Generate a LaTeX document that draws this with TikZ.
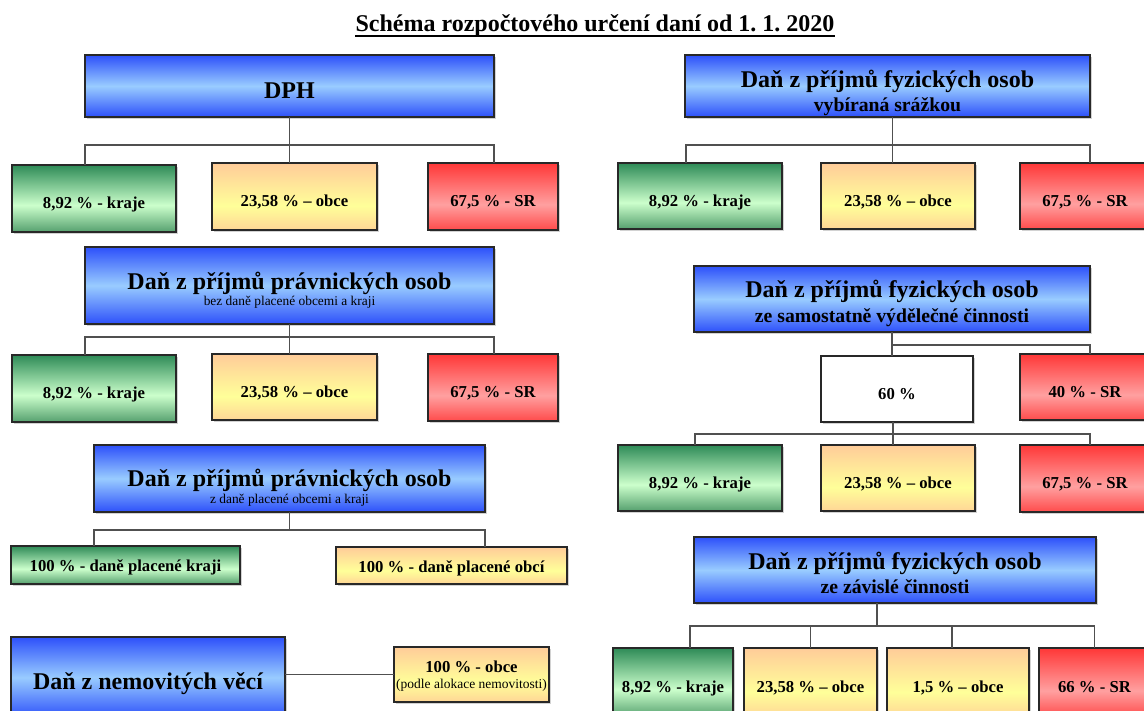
\documentclass[tikz,border=0pt]{standalone}
\usepackage{fontspec}
\setmainfont{Liberation Serif}
\usetikzlibrary{shadows}
\definecolor{bdark}{RGB}{45,80,250}
\definecolor{blight}{RGB}{153,204,255}
\definecolor{gdark}{RGB}{46,139,87}
\definecolor{glight}{RGB}{204,255,204}
\definecolor{gbot}{RGB}{85,160,110}
\definecolor{ydark}{RGB}{255,204,153}
\definecolor{ylight}{RGB}{255,255,153}
\definecolor{ybot}{RGB}{255,214,150}
\definecolor{rdark}{RGB}{255,55,55}
\definecolor{rlight}{RGB}{255,160,160}
\definecolor{rbot}{RGB}{255,75,75}
\definecolor{edge}{RGB}{40,40,40}
\definecolor{connc}{RGB}{80,80,80}
\pgfdeclareverticalshading{blueshade}{100bp}{color(0bp)=(bdark); color(25bp)=(bdark); color(50bp)=(blight); color(75bp)=(bdark); color(100bp)=(bdark)}
\pgfdeclareverticalshading{greenshade}{100bp}{color(0bp)=(gbot); color(25bp)=(gbot); color(45bp)=(glight); color(75bp)=(gdark); color(100bp)=(gdark)}
\pgfdeclareverticalshading{yellowshade}{100bp}{color(0bp)=(ybot); color(25bp)=(ybot); color(43bp)=(ylight); color(75bp)=(ydark); color(100bp)=(ydark)}
\pgfdeclareverticalshading{redshade}{100bp}{color(0bp)=(rbot); color(25bp)=(rbot); color(44bp)=(rlight); color(75bp)=(rdark); color(100bp)=(rdark)}
\newcommand\boxat[7]{\node[#1, minimum width={(#5)-(#3)}, minimum height={(#6)-(#4)}] (#2) at ({((#3)+(#5))/2},{((#4)+(#6))/2}) {#7};}
\tikzset{
  boxbase/.style={draw=edge, line width=1.1pt, inner sep=0pt, outer sep=0pt, align=center,
    drop shadow={shadow xshift=1.8pt, shadow yshift=-1.8pt, opacity=0.35}},
  bluebox/.style={boxbase, shading=blueshade, font=\fontsize{24}{24}\selectfont\bfseries},
  smallbox/.style={boxbase, font=\fontsize{16.7}{20}\selectfont\bfseries, text height=24pt, text depth=4pt},
  greenbox/.style={smallbox, shading=greenshade},
  yellowbox/.style={smallbox, shading=yellowshade},
  redbox/.style={smallbox, shading=redshade},
  whitebox/.style={smallbox, fill=white},
  conn/.style={draw=connc, line width=1.3pt},
}
\newcommand\subb{\fontsize{19.7}{24}\selectfont}
\newcommand\subs{\fontsize{13.4}{16}\selectfont\mdseries}
\begin{document}
\begin{tikzpicture}[x=1pt,y=-1pt]
\useasboundingbox (0,0) rectangle (1144,710);
\clip (0,0) rectangle (1144,710);
\fill[white] (0,0) rectangle (1144,710);

% title
\node[font=\fontsize{24}{24}\selectfont\bfseries, inner sep=0pt, anchor=base] (title) at (595,31) {Schéma rozpočtového určení daní od 1.~1.~2020};
\draw[line width=1.4pt] ([yshift=-5pt]title.base west) -- ([yshift=-5pt]title.base east);

% ---------- left column ----------
\boxat{bluebox, text height=28pt, text depth=4pt}{dph}{85}{55}{494}{117}{DPH}
\boxat{greenbox}{g1}{12}{165}{176}{232}{8,92 \% - kraje}
\boxat{yellowbox}{y1}{212}{163}{377}{230}{23,58 \% – obce}
\boxat{redbox}{r1}{428}{163}{558}{230}{67,5 \% - SR}

\boxat{bluebox, text height=44pt, text depth=4pt}{ppo1}{85}{247}{494}{324}{Daň z příjmů právnických osob\\[-8pt]{\subs bez daně placené obcemi a kraji}}
\boxat{greenbox}{g2}{12}{355}{176}{422}{8,92 \% - kraje}
\boxat{yellowbox}{y2}{212}{354}{377}{420}{23,58 \% – obce}
\boxat{redbox}{r2}{428}{354}{558}{421}{67,5 \% - SR}

\boxat{bluebox, text height=53pt, text depth=4pt}{ppo2}{94}{445}{485}{512}{Daň z příjmů právnických osob\\[-7pt]{\subs z daně placené obcemi a kraji}}
\boxat{greenbox, text height=17pt, text depth=4pt}{g3}{11}{546}{240}{584}{100 \% - daně placené kraji}
\boxat{yellowbox, text height=17pt, text depth=4pt}{y3}{336}{547}{567}{584}{100 \% - daně placené obcí}

\boxat{bluebox, text height=28pt, text depth=4pt}{dnv}{11}{637}{285}{718}{Daň z nemovitých věcí}
\boxat{yellowbox, text height=31pt, text depth=4pt}{y4}{394}{647}{549}{702}{100 \% - obce\\[-4pt]{\fontsize{13.5}{16}\selectfont\mdseries (podle alokace nemovitosti)}}

% ---------- right column ----------
\boxat{bluebox, text height=55pt, text depth=5pt}{fs}{685}{55}{1090}{117}{Daň z příjmů fyzických osob\\{\subb vybíraná srážkou}}
\boxat{greenbox}{g4}{618}{163}{782}{229}{8,92 \% - kraje}
\boxat{yellowbox}{y4r}{821}{163}{975}{229}{23,58 \% – obce}
\boxat{redbox}{r4}{1020}{163}{1150}{229}{67,5 \% - SR}

\boxat{bluebox, text height=51pt, text depth=5pt}{fss}{694}{266}{1090}{332}{Daň z příjmů fyzických osob\\[1pt]{\subb ze samostatně výdělečné činnosti}}
\boxat{whitebox}{w60}{821}{356}{973}{422}{60 \%}
\boxat{redbox}{r5}{1020}{354}{1150}{420}{40 \% - SR}
\boxat{greenbox}{g5}{618}{445}{782}{511}{8,92 \% - kraje}
\boxat{yellowbox}{y5}{821}{445}{975}{511}{23,58 \% – obce}
\boxat{redbox}{r6}{1020}{445}{1150}{512}{67,5 \% - SR}

\boxat{bluebox, text height=51pt, text depth=5pt}{fsz}{694}{537}{1096}{603}{Daň z příjmů fyzických osob\\{\subb ze závislé činnosti}}
\boxat{greenbox}{g6}{613}{648}{733}{717}{8,92 \% - kraje}
\boxat{yellowbox}{y6}{744}{648}{877}{717}{23,58 \% – obce}
\boxat{yellowbox}{y7}{887}{648}{1029}{717}{1,5 \% – obce}
\boxat{redbox}{r7}{1039}{648}{1150}{717}{66 \% - SR}

% ---------- connectors ----------
\draw[conn] (dph.south) -- ++(0,28) -| ([xshift=-9pt]g1.north);
\draw[conn] (dph.south) ++(0,28) -| ([xshift=1pt]r1.north);
\draw[conn] (dph.south) -- (dph.south |- y1.north);

\draw[conn] (ppo1.south) -- ++(0,13) -| ([xshift=-9pt]g2.north);
\draw[conn] (ppo1.south) ++(0,13) -| ([xshift=1pt]r2.north);
\draw[conn] (ppo1.south) -- (ppo1.south |- y2.north);

\draw[conn] (ppo2.south) -- ++(0,18) -| ([xshift=-31.5pt]g3.north);
\draw[conn] (ppo2.south) ++(0,18) -| ([xshift=33.5pt]y3.north);

\draw[conn] (y4.west -| dnv.east) -- (y4.west);

\draw[conn] ([xshift=5pt]fs.south) -- ++(0,28) -| ([xshift=-14pt]g4.north);
\draw[conn] ([xshift=5pt]fs.south) ++(0,28) -| ([xshift=5pt]r4.north);
\draw[conn] ([xshift=5pt]fs.south) -- ([xshift=5pt]fs.south |- y4r.north);

\draw[conn] (fss.south) -- ++(0,13) -| ([xshift=5pt]r5.north);
\draw[conn] (fss.south) -- (fss.south |- w60.north);

\draw[conn] ([xshift=-4pt]w60.south) -- ++(0,12) -| ([xshift=-5pt]g5.north);
\draw[conn] ([xshift=-4pt]w60.south) ++(0,12) -| ([xshift=5pt]r6.north);
\draw[conn] ([xshift=-4pt]w60.south) -- ([xshift=-4pt]w60.south |- y5.north);

\coordinate (fszj) at ([xshift=-18pt,yshift=-23pt]fsz.south);
\draw[conn] ([xshift=-18pt]fsz.south) -- (fszj);
\draw[conn] (fszj) -| ([xshift=17pt]g6.north);
\draw[conn] (fszj) -| (y6.north);
\draw[conn] (fszj) -| ([xshift=-6pt]y7.north);
\draw[conn] (fszj) -| (r7.north);
\end{tikzpicture}
\end{document}
